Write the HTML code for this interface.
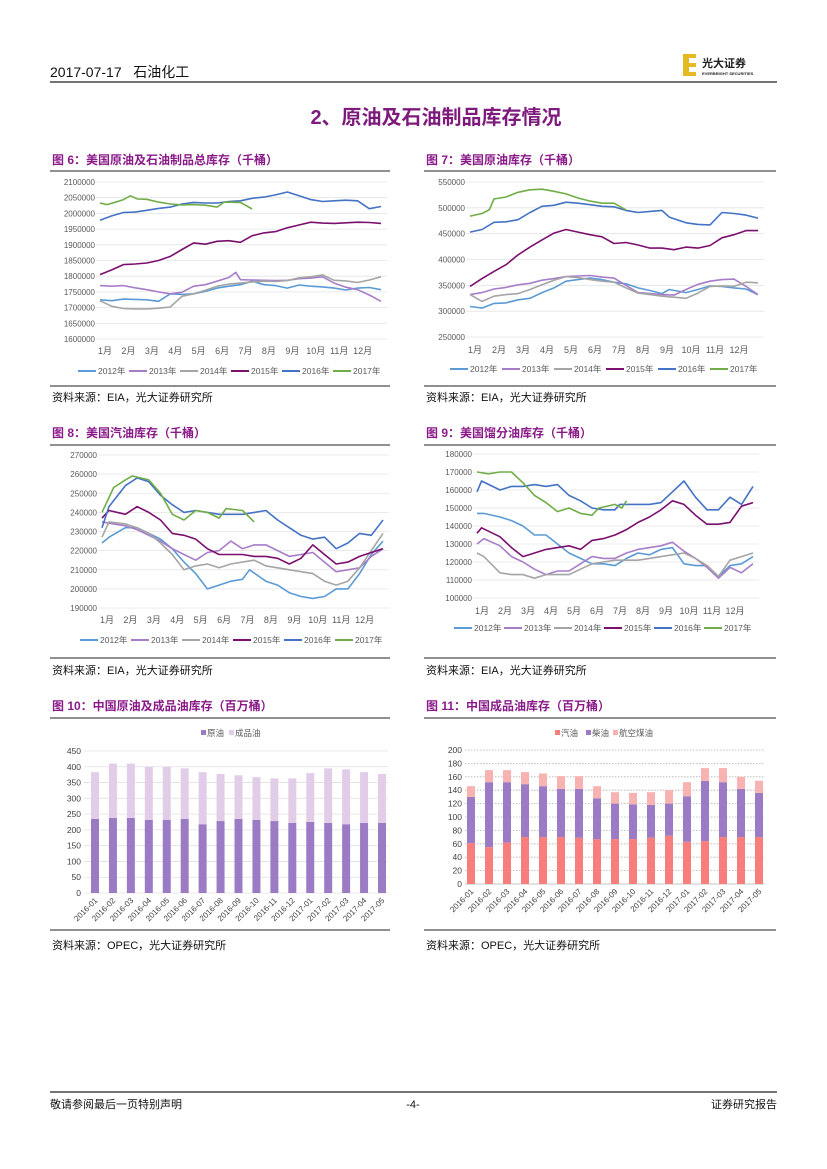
<!DOCTYPE html>
<html><head><meta charset="utf-8">
<style>
body{margin:0;background:#fff;}
#page{position:relative;width:827px;height:1169px;overflow:hidden;font-family:"Liberation Sans","Noto Sans CJK SC",sans-serif;}
svg text{font-family:"Liberation Sans","Noto Sans CJK SC",sans-serif;}
</style></head>
<body>
<div id="page">
<svg id="main" width="827" height="1169" viewBox="0 0 827 1169" xmlns="http://www.w3.org/2000/svg">
  <g>
    <text x="50" y="77" font-size="14" fill="#111">2017-07-17 &#160;&#160;石油化工</text>
    <line x1="50" y1="82" x2="777" y2="82" stroke="#222" stroke-width="1.2"/>
    <g>
      <rect x="683" y="54" width="13" height="22" fill="#e6b822"/>
      <rect x="689" y="58" width="7" height="5" fill="#fff"/>
      <rect x="689" y="67" width="7" height="5" fill="#fff"/>
      <text x="702" y="67" font-size="11" font-weight="bold" fill="#222">光大证券</text>
      <text x="702" y="75" font-size="4" font-weight="bold" fill="#222">EVERBRIGHT SECURITIES</text>
    </g>
  </g>
  <text x="436" y="124" text-anchor="middle" font-size="20" font-weight="bold" fill="#7e1a7c">2、原油及石油制品库存情况</text>

  <g font-size="12" font-weight="bold" fill="#8a1a88">
    <text x="52" y="164">图 6：美国原油及石油制品总库存（千桶）</text>
    <text x="426" y="164">图 7：美国原油库存（千桶）</text>
    <text x="52" y="437">图 8：美国汽油库存（千桶）</text>
    <text x="426" y="437">图 9：美国馏分油库存（千桶）</text>
    <text x="52" y="710">图 10：中国原油及成品油库存（百万桶）</text>
    <text x="426" y="710">图 11：中国成品油库存（百万桶）</text>
  </g>
  <g stroke="#222" stroke-width="1">
    <line x1="50" y1="171" x2="390" y2="171"/><line x1="424" y1="171" x2="776" y2="171"/>
    <line x1="50" y1="386" x2="390" y2="386"/><line x1="424" y1="386" x2="776" y2="386"/>
    <line x1="50" y1="445" x2="390" y2="445"/><line x1="424" y1="445" x2="776" y2="445"/>
    <line x1="50" y1="658" x2="390" y2="658"/><line x1="424" y1="658" x2="776" y2="658"/>
    <line x1="50" y1="718" x2="390" y2="718"/><line x1="424" y1="718" x2="776" y2="718"/>
    <line x1="50" y1="930" x2="390" y2="930"/><line x1="424" y1="930" x2="776" y2="930"/>
  </g>
  <g font-size="11" fill="#111">
    <text x="52" y="401">资料来源：EIA，光大证券研究所</text>
    <text x="426" y="401">资料来源：EIA，光大证券研究所</text>
    <text x="52" y="674">资料来源：EIA，光大证券研究所</text>
    <text x="426" y="674">资料来源：EIA，光大证券研究所</text>
    <text x="52" y="949">资料来源：OPEC，光大证券研究所</text>
    <text x="426" y="949">资料来源：OPEC，光大证券研究所</text>
  </g>
  <g id="charts"></g>
  <g>
    <line x1="50" y1="1092" x2="777" y2="1092" stroke="#222" stroke-width="1.2"/>
    <text x="50" y="1108" font-size="11" fill="#111">敬请参阅最后一页特别声明</text>
    <text x="413" y="1108" font-size="11" fill="#111" text-anchor="middle">-4-</text>
    <text x="777" y="1108" font-size="11" fill="#111" text-anchor="end">证券研究报告</text>
  </g>
</svg>
</div>
<script>
const monthLabels=["1月","2月","3月","4月","5月","6月","7月","8月","9月","10月","11月","12月"];
const seriesNames=["2012年","2013年","2014年","2015年","2016年","2017年"];
const seriesColors=["#5b9bd5","#a77dc8","#a5a5a5","#7b0f6e","#4472c4","#70ad47"];
// values in 万桶 (x10000 thousand... displayed as thousand barrels *10000); points are [month, value]
const f6_2012=[[0,172.5],[0.5,172.2],[1,172.7],[1.5,172.6],[2,172.5],[2.5,172],[3,174.4],[3.5,174.2],[4,174.4],[4.5,175.2],[5,176.2],[5.5,176.8],[6,177.3],[6.5,178.4],[7,177.3],[7.5,177],[8,176.2],[8.5,177.2],[9,176.8],[9.5,176.6],[10,176.2],[10.5,175.6],[11,176.2],[11.5,176.4],[12,175.7]];
const f6_2013=[[0,177],[0.5,176.8],[1,177],[1.5,176.3],[2,175.7],[2.5,175],[3,174.4],[3.5,174.9],[4,176.8],[4.5,177.3],[5,178.4],[5.5,179.6],[5.8,181.2],[6,178.9],[6.5,178.8],[7,178.7],[7.5,178.6],[8,178.7],[8.5,179.2],[9,179.4],[9.5,179.8],[10,177.8],[10.5,176.5],[11,175.7],[11.5,174],[12,172]];
const f6_2014=[[0,172.2],[0.5,170.4],[1,169.7],[1.5,169.6],[2,169.6],[2.5,169.8],[3,170.2],[3.5,173.6],[4,174.4],[4.5,175.5],[5,176.8],[5.5,177.5],[6,177.8],[6.5,178.2],[7,178.4],[7.5,178.3],[8,178.6],[8.5,179.5],[9,179.8],[9.5,180.4],[10,178.7],[10.5,178.5],[11,178],[11.5,178.8],[12,179.8]];
const f6_2015=[[0,180.5],[0.5,182],[1,183.7],[1.5,183.9],[2,184.2],[2.5,185],[3,186.3],[3.5,188.5],[4,190.6],[4.5,190.2],[5,191.1],[5.5,191.3],[6,190.8],[6.5,192.9],[7,193.8],[7.5,194.2],[8,195.4],[8.5,196.3],[9,197.2],[9.5,196.9],[10,196.8],[10.5,197],[11,197.2],[11.5,197.1],[12,196.8]];
const f6_2016=[[0,197.8],[0.5,199.2],[1,200.3],[1.5,200.4],[2,201],[2.5,201.6],[3,202],[3.5,203],[4,203.5],[4.5,203.3],[5,203.3],[5.5,203.8],[6,204],[6.5,204.8],[7,205.2],[7.5,205.9],[8,206.8],[8.5,205.6],[9,204.4],[9.5,203.8],[10,204],[10.5,204.2],[11,204],[11.5,201.5],[12,202.2]];
const f6_2017=[[0,203.3],[0.3,202.8],[0.8,203.9],[1,204.4],[1.3,205.6],[1.6,204.6],[2,204.5],[2.5,203.6],[3,203],[3.5,202.7],[4,202.8],[4.5,202.6],[5,202],[5.3,203.6],[6,203.5],[6.5,201.4]];
const f7_2012=[[0,30.9],[0.5,30.6],[1,31.5],[1.5,31.6],[2,32.2],[2.5,32.5],[3,33.6],[3.5,34.5],[4,35.8],[4.5,36.1],[5,36.4],[5.5,36.1],[6,35.6],[6.5,35.3],[7,34.5],[7.5,34],[8,33.4],[8.3,34.2],[9,33.6],[9.5,34.2],[10,34.9],[10.5,34.8],[11,34.5],[11.5,34.3],[12,33.2]];
const f7_2013=[[0,33.2],[0.5,33.6],[1,34.3],[1.5,34.6],[2,35.1],[2.5,35.4],[3,36],[3.5,36.3],[4,36.7],[4.5,36.8],[5,36.9],[5.5,36.6],[6,36.4],[6.5,35],[7,33.6],[7.5,33.4],[8,33.2],[8.5,33.1],[9,34.2],[9.5,35.2],[10,35.8],[10.5,36.1],[11,36.2],[11.5,34.8],[12,33.2]];
const f7_2014=[[0,33.2],[0.5,31.9],[1,32.9],[1.5,33.2],[2,33.4],[2.5,34.2],[3,35.1],[3.5,36],[4,36.7],[4.5,36.5],[5,36.1],[5.5,35.8],[6,35.6],[6.5,34.5],[7,33.5],[7.5,33.2],[8,32.9],[8.5,32.7],[9,32.5],[9.5,33.5],[10,34.8],[10.5,34.9],[11,34.8],[11.5,35.6],[12,35.5]];
const f7_2015=[[0,34.8],[0.5,36.3],[1,37.7],[1.5,39],[2,40.9],[2.5,42.4],[3,43.8],[3.5,45.1],[4,45.8],[4.5,45.3],[5,44.8],[5.5,44.4],[6,43.1],[6.5,43.3],[7,42.8],[7.5,42.2],[8,42.2],[8.5,41.9],[9,42.4],[9.5,42.2],[10,42.7],[10.5,44.2],[11,44.8],[11.5,45.6],[12,45.6]];
const f7_2016=[[0,45.3],[0.5,45.8],[1,47.2],[1.5,47.3],[2,47.7],[2.5,49.1],[3,50.3],[3.5,50.5],[4,51.1],[4.5,50.9],[5,50.6],[5.5,50.3],[6,50.2],[6.5,49.5],[7,49.1],[7.5,49.3],[8,49.5],[8.3,48.2],[9,47.1],[9.5,46.8],[10,46.7],[10.5,49.1],[11,48.9],[11.5,48.6],[12,48]];
const f7_2017=[[0,48.4],[0.5,48.9],[0.8,49.6],[1,51.7],[1.5,52.1],[2,53],[2.5,53.5],[3,53.6],[3.5,53.2],[4,52.7],[4.5,51.9],[5,51.3],[5.5,50.9],[6,50.9],[6.5,49.6]];
const f8_2012=[[0,22.4],[0.3,22.7],[1,23.2],[1.5,23.2],[2,22.9],[2.5,22.6],[3,22.1],[3.5,21.4],[4,20.8],[4.5,20],[5,20.2],[5.5,20.4],[6,20.5],[6.3,21],[7,20.4],[7.5,20.2],[8,19.8],[8.5,19.6],[9,19.5],[9.5,19.6],[10,20],[10.5,20],[11,20.8],[11.5,21.8],[12,22.5]];
const f8_2013=[[0,23.5],[0.5,23.4],[1,23.3],[1.5,23.1],[2,22.8],[2.5,22.5],[3,22.1],[3.5,21.8],[4,21.5],[4.5,21.9],[5,22],[5.5,22.5],[6,22.1],[6.5,22.3],[7,22.3],[7.5,22],[8,21.7],[8.5,21.8],[9,21.9],[9.5,21.4],[10,20.9],[10.5,21],[11,21.1],[11.5,21.7],[12,22.1]];
const f8_2014=[[0,22.7],[0.3,23.5],[1,23.4],[1.5,23.2],[2,22.9],[2.5,22.4],[3,21.8],[3.5,21],[4,21.2],[4.5,21.3],[5,21.1],[5.5,21.3],[6,21.4],[6.5,21.5],[7,21.2],[7.5,21.1],[8,21],[8.5,20.9],[9,20.8],[9.5,20.4],[10,20.2],[10.5,20.4],[11,21.1],[11.5,22],[12,22.9]];
const f8_2015=[[0,23.7],[0.3,24.1],[1,23.9],[1.5,24.3],[2,24],[2.5,23.6],[3,22.9],[3.5,22.8],[4,22.6],[4.5,22.1],[5,21.8],[5.5,21.8],[6,21.8],[6.5,21.7],[7,21.7],[7.5,21.6],[8,21.3],[8.5,21.6],[9,22.3],[9.5,21.8],[10,21.3],[10.5,21.4],[11,21.7],[11.5,21.9],[12,22.1]];
const f8_2016=[[0,23.2],[0.3,24.3],[1,25.4],[1.5,25.8],[2,25.6],[2.5,24.9],[3,24.4],[3.5,24],[4,24.1],[4.5,24],[5,23.9],[5.5,23.9],[6,23.9],[6.5,24],[7,24.1],[7.5,23.6],[8,23.2],[8.5,22.8],[9,22.6],[9.5,22.7],[10,22.1],[10.5,22.4],[11,22.9],[11.5,22.8],[12,23.6]];
const f8_2017=[[0,24],[0.5,25.3],[1,25.7],[1.3,25.9],[2,25.7],[2.5,25],[3,23.9],[3.5,23.6],[4,24.1],[4.5,24],[5,23.7],[5.3,24.2],[6,24.1],[6.5,23.5]];
const f9_2012=[[0,14.7],[0.3,14.7],[1,14.5],[1.5,14.3],[2,14],[2.5,13.5],[3,13.5],[3.5,13],[4,12.5],[4.5,12.2],[5,11.9],[5.5,11.9],[6,11.8],[6.5,12.2],[7,12.5],[7.5,12.4],[8,12.7],[8.5,12.8],[9,11.9],[9.5,11.8],[10,11.8],[10.5,11.2],[11,11.8],[11.5,11.9],[12,12.3]];
const f9_2013=[[0,13],[0.3,13.3],[1,12.9],[1.5,12.3],[2,12],[2.5,11.6],[3,11.3],[3.5,11.5],[4,11.5],[4.5,11.9],[5,12.3],[5.5,12.2],[6,12.2],[6.5,12.5],[7,12.7],[7.5,12.8],[8,12.9],[8.5,13.1],[9,12.6],[9.5,12.2],[10,11.7],[10.5,11.1],[11,11.7],[11.5,11.4],[12,11.9]];
const f9_2014=[[0,12.5],[0.3,12.3],[1,11.4],[1.5,11.3],[2,11.3],[2.5,11.1],[3,11.3],[3.5,11.3],[4,11.3],[4.5,11.6],[5,11.9],[5.5,12],[6,12.1],[6.5,12.1],[7,12.1],[7.5,12.2],[8,12.3],[8.5,12.4],[9,12.5],[9.5,12.2],[10,11.8],[10.5,11.2],[11,12.1],[11.5,12.3],[12,12.5]];
const f9_2015=[[0,13.6],[0.2,13.9],[1,13.4],[1.5,12.8],[2,12.3],[2.5,12.5],[3,12.7],[3.5,12.8],[4,12.9],[4.5,12.7],[5,13.2],[5.5,13.3],[6,13.5],[6.5,13.8],[7,14.2],[7.5,14.5],[8,14.9],[8.5,15.4],[9,15.2],[9.5,14.6],[10,14.1],[10.5,14.1],[11,14.2],[11.5,15.1],[12,15.3]];
const f9_2016=[[0,15.9],[0.2,16.5],[1,16],[1.5,16.2],[2,16.2],[2.5,16.3],[3,16.2],[3.5,16.3],[4,15.7],[4.5,15.4],[5,15],[5.5,14.9],[6,14.9],[6.2,15.2],[7,15.2],[7.5,15.2],[8,15.3],[8.5,15.9],[9,16.5],[9.5,15.6],[10,14.9],[10.5,14.9],[11,15.6],[11.5,15.2],[12,16.2]];
const f9_2017=[[0,17],[0.5,16.9],[1,17],[1.5,17],[2,16.4],[2.5,15.7],[3,15.3],[3.5,14.8],[4,15],[4.5,14.7],[5,14.6],[5.3,15],[6,15.2],[6.3,15],[6.5,15.4]];
const f6_ticks=[160,165,170,175,180,185,190,195,200,205,210];
const f7_ticks=[25,30,35,40,45,50,55];
const f8_ticks=[19,20,21,22,23,24,25,26,27];
const f9_ticks=[10,11,12,13,14,15,16,17,18];
// bar data (百万桶)
const f10_months=["2016-01","2016-02","2016-03","2016-04","2016-05","2016-06","2016-07","2016-08","2016-09","2016-10","2016-11","2016-12","2017-01","2017-02","2017-03","2017-04","2017-05"];
const f10_crude=[235,238,238,232,232,235,218,228,235,232,228,222,225,222,218,222,222];
const f10_products=[148,172,172,168,168,160,165,149,138,135,135,141,155,173,174,161,155];
const f10_ticks=[0,50,100,150,200,250,300,350,400,450];
const f11_gasoline=[61,55,62,70,70,70,69,67,67,67,69,72,63,64,70,70,70];
const f11_diesel=[69,97,90,79,76,72,73,61,53,52,49,48,68,90,82,72,66];
const f11_jet=[16,18,18,18,19,19,19,18,17,17,19,20,21,19,21,18,18];
const f11_ticks=[0,20,40,60,80,100,120,140,160,180,200];

const NS="http://www.w3.org/2000/svg";
const root=document.getElementById('charts');
function mk(tag,attrs,parent,text){const e=document.createElementNS(NS,tag);for(const k in attrs)e.setAttribute(k,attrs[k]);if(text!==undefined)e.textContent=text;(parent||root).appendChild(e);return e;}

function lineChart(id,g,series,ticks,tickMul){
  const grp=mk('g',{});
  
  
  const tmin=ticks[0],tmax=ticks[ticks.length-1];
  const sx=m=>g.x0+m/12*(g.x1-g.x0);
  const sy=v=>g.yb+(v-tmin)/(tmax-tmin)*(g.yt-g.yb);
  ticks.forEach(t=>{
    const ln=mk('line',{x1:g.x0-4,x2:g.x1+6,y1:sy(t),y2:sy(t),stroke:'#e4e4e4','stroke-width':0.8},grp);
    
    
    const tx=mk('text',{x:g.x0-5,y:sy(t)+3,'font-size':8,fill:'#595959','text-anchor':'end'},grp,String(t*tickMul));
    
    
  });
  monthLabels.forEach((m,i)=>{
    const tx=mk('text',{x:sx(i)+5,y:g.my,'font-size':9,fill:'#595959','text-anchor':'middle'},grp,m);
    
    
  });
  series.forEach((s,k)=>{
    const d=s.map((p,i)=>(i?'L':'M')+sx(p[0]).toFixed(1)+' '+sy(p[1]).toFixed(1)).join(' ');
    const pth=mk('path',{d:d,fill:'none',stroke:seriesColors[k],'stroke-width':1.6,'stroke-linejoin':'round'},grp);
    
    
  });
  seriesNames.forEach((n,k)=>{
    const lx=g.lx+k*g.ls;
    const lg=mk('g',{},grp);
    
    
    mk('line',{x1:lx,x2:lx+18,y1:g.ly-3,y2:g.ly-3,stroke:seriesColors[k],'stroke-width':2},lg);
    mk('text',{x:lx+20,y:g.ly,'font-size':8.5,fill:'#595959'},lg,n);
  });
}
lineChart('fig6',{x0:100,x1:381,yt:182,yb:339,my:354,lx:78,ls:51,ly:374},[f6_2012,f6_2013,f6_2014,f6_2015,f6_2016,f6_2017],f6_ticks,10000);
lineChart('fig7',{x0:470,x1:758,yt:182,yb:337,my:353,lx:450,ls:52,ly:372},[f7_2012,f7_2013,f7_2014,f7_2015,f7_2016,f7_2017],f7_ticks,10000);
lineChart('fig8',{x0:102,x1:383,yt:455,yb:608,my:623,lx:80,ls:51,ly:643},[f8_2012,f8_2013,f8_2014,f8_2015,f8_2016,f8_2017],f8_ticks,10000);
lineChart('fig9',{x0:477,x1:753,yt:454,yb:598,my:614,lx:454,ls:50,ly:631},[f9_2012,f9_2013,f9_2014,f9_2015,f9_2016,f9_2017],f9_ticks,10000);

function barChart(id,g,stacks,colors,names,ticks,dotted){
  const grp=mk('g',{});
  
  
  const tmax=ticks[ticks.length-1];
  const sy=v=>g.yb-v/tmax*(g.yb-g.yt);
  const n=f10_months.length;
  const sx=i=>g.c0+i*(g.c1-g.c0)/(n-1);
  ticks.forEach(t=>{
    const ln=mk('line',{x1:g.gx0,x2:g.gx1,y1:sy(t),y2:sy(t),stroke:dotted?'#b0b0b0':'#e0e0e0','stroke-width':0.8,'stroke-dasharray':dotted&&t>0?'1.5,1.5':'none'},grp);
    
    
    const tx=mk('text',{x:g.gx0-3,y:sy(t)+3,'font-size':8.5,fill:'#404040','text-anchor':'end'},grp,String(t));
    
    
  });
  f10_months.forEach((m,i)=>{
    let base=0;
    stacks.forEach((arr,k)=>{
      const r=mk('rect',{x:sx(i)-4,y:sy(base+arr[i]),width:8,height:sy(base)-sy(base+arr[i]),fill:colors[k]},grp);
      
      
      base+=arr[i];
    });
    const tx=mk('text',{x:sx(i)+3,y:g.yb+8,'font-size':8,fill:'#404040','text-anchor':'end',transform:'rotate(-45 '+(sx(i)+3)+' '+(g.yb+8)+')'},grp,m);
    
    
  });
  names.forEach((nm,k)=>{
    const lg=mk('g',{},grp);
    
    
    mk('rect',{x:g.lx[k],y:g.ly-6,width:5,height:5,fill:colors[k]},lg);
    mk('text',{x:g.lx[k]+6,y:g.ly,'font-size':8.5,fill:'#595959'},lg,nm);
  });
}
barChart('fig10',{yt:751,yb:893,c0:95,c1:382,gx0:84,gx1:388,lx:[201,229],ly:736},[f10_crude,f10_products],['#9b7cc4','#e2cde8'],['原油','成品油'],f10_ticks,false);
barChart('fig11',{yt:750,yb:884,c0:471,c1:759,gx0:465,gx1:764,lx:[555,586,613],ly:736},[f11_gasoline,f11_diesel,f11_jet],['#f87d7d','#9b7cc4','#f9b2b2'],['汽油','柴油','航空煤油'],f11_ticks,true);
</script>
</body></html>
